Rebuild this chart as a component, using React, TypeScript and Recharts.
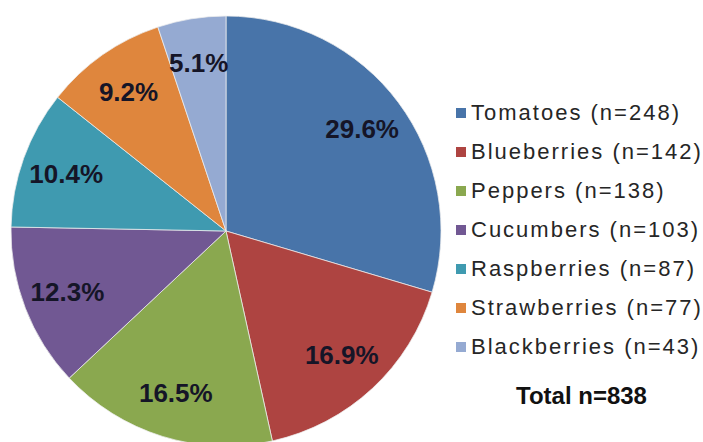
import { Cell, Legend, Pie, PieChart } from "recharts";

const crops = [
  "Tomatoes",
  "Blueberries",
  "Peppers",
  "Cucumbers",
  "Raspberries",
  "Strawberries",
  "Blackberries",
];
const counts = [248, 142, 138, 103, 87, 77, 43];
const colors = [
  "#4874A9",
  "#AE4441",
  "#8AA84F",
  "#715893",
  "#3F9AB0",
  "#DF863D",
  "#95AAD2",
];

const total = counts.reduce((a, b) => a + b, 0);
const data = crops.map((name, i) => ({ name, value: counts[i] }));

const RADIAN = Math.PI / 180;

function renderLabel(props: any) {
  const { cx, cy, midAngle, outerRadius, percent } = props;
  const r = outerRadius * 0.79;
  const x = cx + r * Math.cos(-midAngle * RADIAN);
  const y = cy + r * Math.sin(-midAngle * RADIAN);
  return (
    <text
      x={x}
      y={y}
      fill="#151527"
      textAnchor="middle"
      dominantBaseline="central"
      fontFamily="'Liberation Sans', Arial, sans-serif"
      fontWeight="bold"
      fontSize={26}
    >
      {(percent * 100).toFixed(1)}%
    </text>
  );
}

// legend keeps the series order (recharts would sort the payload by name)
function LegendBox() {
  return (
    <div style={{ fontFamily: "'Liberation Sans', Arial, sans-serif" }}>
      {crops.map((name, i) => (
        <div
          key={name}
          style={{
            display: "flex",
            alignItems: "center",
            height: 39,
            fontSize: 22,
            letterSpacing: 2,
            color: "#262626",
            whiteSpace: "nowrap",
          }}
        >
          <span
            style={{
              width: 10,
              height: 10,
              background: colors[i],
              marginRight: 5,
              display: "inline-block",
            }}
          />
          {name} (n={counts[i]})
        </div>
      ))}
      <div
        style={{
          marginTop: 16,
          fontWeight: "bold",
          fontSize: 24,
          color: "#111",
          textAlign: "center",
          paddingLeft: 4,
        }}
      >
        Total n={total}
      </div>
    </div>
  );
}

export default function App() {
  return (
    <div style={{ position: "absolute", left: 0, top: 0, background: "#fff" }}>
      <PieChart width={703} height={442} margin={{ top: 0, right: 0, bottom: 0, left: 0 }}>
        <Pie
          data={data}
          dataKey="value"
          nameKey="name"
          cx={226}
          cy={231}
          outerRadius={215}
          startAngle={90}
          endAngle={-270}
          stroke="#eeeeee"
          strokeWidth={0.75}
          label={renderLabel}
          labelLine={false}
          isAnimationActive={false}
        >
          {data.map((d, i) => (
            <Cell key={d.name} fill={colors[i]} />
          ))}
        </Pie>
        <Legend
          layout="vertical"
          align="right"
          verticalAlign="top"
          content={<LegendBox />}
          wrapperStyle={{ position: "absolute", left: 456, top: 93, width: 247 }}
        />
      </PieChart>
    </div>
  );
}
